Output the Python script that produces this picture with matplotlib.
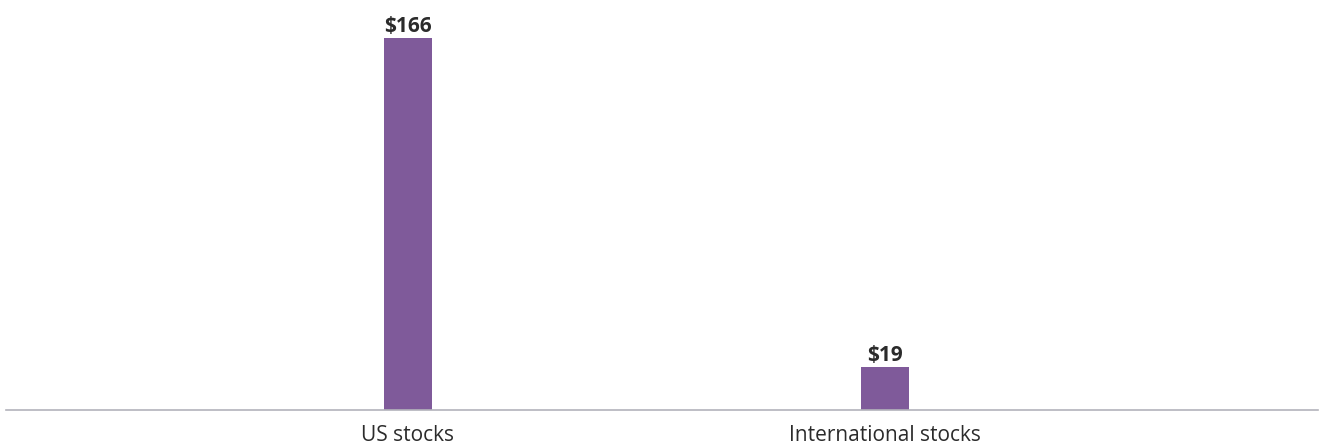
import matplotlib
matplotlib.use("Agg")
import matplotlib.pyplot as plt

categories = ["US stocks", "International stocks"]
values = [166, 19]
value_labels = ["$166", "$19"]

BAR_COLOR = "#7f5a9a"
TEXT_COLOR = "#2b2b2b"
AXIS_COLOR = "#b3b3bb"

plt.rcParams["font.family"] = ["Open Sans", "DejaVu Sans"]

W, H, DPI = 1331, 447, 100
fig = plt.figure(figsize=(W / DPI, H / DPI), dpi=DPI)
ax = fig.add_axes([6 / W, 37 / H, 1312 / W, 410 / H])

x = list(range(len(categories)))
ax.bar(x, values, width=0.1, color=BAR_COLOR, zorder=2)

ax.set_xlim(-0.8426, 1.9074)
ax.set_ylim(0, 166 * 410 / 372)

for xi, v, lab in zip(x, values, value_labels):
    ax.annotate(lab, (xi, v), xytext=(0, 1), textcoords="offset points",
                ha="center", va="bottom", fontsize=15, fontweight="bold",
                color=TEXT_COLOR)

ax.set_xticks(x)
ax.set_xticklabels(categories, fontsize=15, color=TEXT_COLOR)
ax.tick_params(axis="x", length=0, pad=11)
ax.set_yticks([])

for side in ("top", "right", "left"):
    ax.spines[side].set_visible(False)
ax.spines["bottom"].set_color(AXIS_COLOR)
ax.spines["bottom"].set_linewidth(1.2)

fig.savefig("out.png", dpi=DPI)
